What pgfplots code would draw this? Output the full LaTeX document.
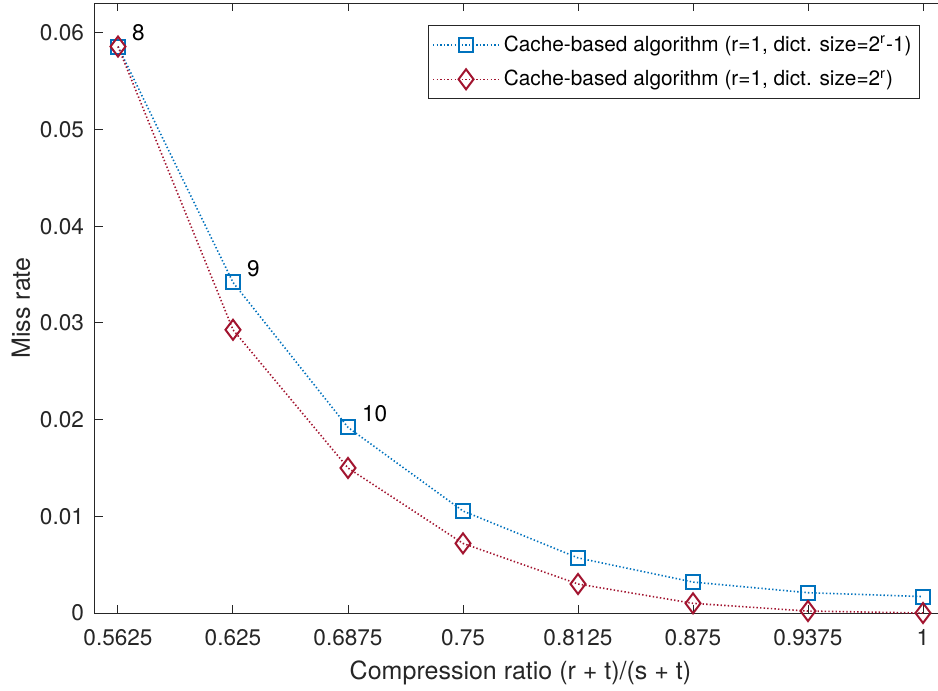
\documentclass[border=0pt]{standalone}
\usepackage{pgfplots}
\pgfplotsset{compat=1.18}
\usepackage{fontspec}
\setmainfont{TeX Gyre Heros}
\definecolor{mblue}{RGB}{0,114,189}
\definecolor{mred}{RGB}{162,20,47}
\definecolor{axgray}{RGB}{38,38,38}

\pgfplotstableread{
x       y
0.5625  0.0586
0.625   0.0342
0.6875  0.0192
0.75    0.01055
0.8125  0.0057
0.875   0.0032
0.9375  0.0021
1       0.0017
}\dictminus
\pgfplotstableread{
x       y
0.5625  0.0586
0.625   0.0293
0.6875  0.0150
0.75    0.0072
0.8125  0.0030
0.875   0.0010
0.9375  0.0002
1       0.0000
}\dictfull

\begin{document}
\begin{tikzpicture}
\begin{axis}[
  scale only axis,
  width=425.5pt, height=305pt,
  xmin=0.55, xmax=1.0125,
  ymin=0, ymax=0.0631,
  axis line style={axgray, line width=0.5pt},
  every tick/.style={axgray, line width=0.5pt},
  tick align=inside,
  major tick length=4pt,
  xtick={0.5625,0.625,0.6875,0.75,0.8125,0.875,0.9375,1},
  xticklabels={0.5625,0.625,0.6875,0.75,0.8125,0.875,0.9375,1},
  ytick={0,0.01,0.02,0.03,0.04,0.05,0.06},
  yticklabels={0,0.01,0.02,0.03,0.04,0.05,0.06},
  /pgf/number format/assume math mode=true,
  tick label style={font=\fontsize{11.3}{13}\selectfont, text=axgray},
  xticklabel style={yshift=-4.5pt},
  yticklabel style={xshift=-2pt},
  xlabel={Compression ratio (r + t)/(s + t)},
  ylabel={Miss rate},
  label style={font=\fontsize{12.5}{15}\selectfont, text=axgray},
  xlabel style={yshift=-1pt},
  ylabel style={yshift=-2pt},
  legend cell align=left,
  legend style={at={(1,1)}, anchor=north east, xshift=-13pt, yshift=-11pt,
    font=\fontsize{10.4}{12}\selectfont, draw=axgray, line width=0.5pt,
    inner xsep=2pt, inner ysep=3pt, row sep=4pt},
  legend image code/.code={
    \draw[#1, mark=none] (0pt,0pt) -- (33pt,0pt);
    \draw[#1, only marks, solid] plot coordinates {(16.5pt,0pt)};
  },
]
\addplot[mblue, line width=0.8pt, dash pattern=on 0.7pt off 1.1pt,
  mark=square, mark size=3.5pt, mark options={solid, line width=1pt}]
  table {\dictminus};
\addlegendentry{Cache-based algorithm (r=1, dict. size=2\textsuperscript{r}-1)}
\addplot[mred, line width=0.8pt, dash pattern=on 0.7pt off 1.1pt,
  mark=diamond, mark size=5pt, mark options={solid, line width=1pt}]
  table {\dictfull};
\addlegendentry{Cache-based algorithm (r=1, dict. size=2\textsuperscript{r})}

\node[anchor=west, font=\fontsize{11.3}{13}\selectfont, xshift=3.5pt, yshift=7pt] at (axis cs:0.5625,0.0586) {8};
\node[anchor=west, font=\fontsize{11.3}{13}\selectfont, xshift=3.5pt, yshift=7pt] at (axis cs:0.625,0.0342) {9};
\node[anchor=west, font=\fontsize{11.3}{13}\selectfont, xshift=3.5pt, yshift=7pt] at (axis cs:0.6875,0.0192) {10};
\end{axis}
\pgfresetboundingbox
\useasboundingbox ([shift={(-47.5pt,-39pt)}]current axis.south west) rectangle ++(469pt,345.5pt);
\end{tikzpicture}
\end{document}
